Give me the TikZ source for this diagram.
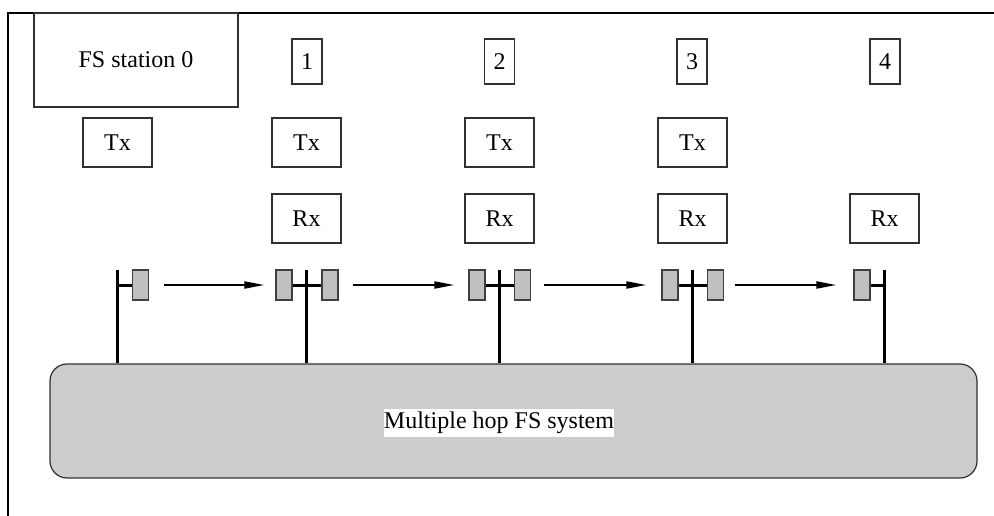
\documentclass[tikz,border=0pt]{standalone}
\usepackage{fontspec}
\setmainfont{Liberation Serif}
\usetikzlibrary{arrows.meta}
\definecolor{antfill}{HTML}{C0C0C0}
\definecolor{antedge}{HTML}{404040}
\definecolor{sysfill}{HTML}{CCCCCC}
\definecolor{edgecol}{HTML}{303030}
\begin{document}
\begin{tikzpicture}[x=1pt,y=-1pt,
  lbl/.style={font=\fontsize{24}{28}\selectfont},
  box/.style={lbl,draw=edgecol,line width=1.2pt,fill=white,minimum width=69pt,minimum height=49pt,inner sep=0pt},
  numbox/.style={box,minimum width=30pt,minimum height=45pt},
  ant/.style={draw=antedge,line width=1.2pt,fill=antfill,minimum width=16pt,minimum height=30pt,inner sep=0pt},
  pole/.style={line width=3pt},
  hop/.style={line width=2pt,-{Triangle[length=20pt,width=7pt]}},
]
\useasboundingbox (0,0) rectangle (994,516);
% frame
\draw[line width=1.5pt] (8,516) -- (8,13) -- (994,13);
% system box
\node[draw=edgecol,line width=1.2pt,fill=sysfill,rounded corners=17pt,minimum width=927pt,minimum height=114pt,inner sep=0pt] (sys) at (513.5,421) {};
\node[lbl,fill=white,inner xsep=0pt,inner ysep=3pt] (syslbl) at (499,423) {Multiple hop FS system};
% station 0
\node[box,minimum width=204pt,minimum height=94pt] (st0) at (136,60) {FS station 0};
% number boxes
\node[numbox] (n1) at (307,61.5) {1};
\node[numbox] (n2) at (499.5,61.5) {2};
\node[numbox] (n3) at (692,61.5) {3};
\node[numbox] (n4) at (885,61.5) {4};
% Tx / Rx
\node[box] (tx0) at (117.5,142.5) {Tx};
\node[box] (tx1) at (306.5,142.5) {Tx};
\node[box] (tx2) at (499.5,142.5) {Tx};
\node[box] (tx3) at (692.5,142.5) {Tx};
\node[box] (rx1) at (306.5,218.5) {Rx};
\node[box] (rx2) at (499.5,218.5) {Rx};
\node[box] (rx3) at (692.5,218.5) {Rx};
\node[box] (rx4) at (884.5,218.5) {Rx};
% pole tops
\coordinate (p0) at (117,270);
\coordinate (p1) at (306,270);
\coordinate (p2) at (499,270);
\coordinate (p3) at (692,270);
\coordinate (p4) at (884,270);
\coordinate (h0) at (117,285);
\coordinate (h4) at (884,285);
% antennas
\node[ant] (a0r) at (140.5,285) {};
\node[ant] (a1l) at (284,285) {};
\node[ant] (a1r) at (330,285) {};
\node[ant] (a2l) at (477,285) {};
\node[ant] (a2r) at (522.5,285) {};
\node[ant] (a3l) at (670,285) {};
\node[ant] (a3r) at (715.5,285) {};
\node[ant] (a4l) at (862,285) {};
% poles
\foreach \p in {p0,p1,p2,p3,p4}
  \draw[pole] (\p) -- (\p |- sys.north);
% stubs
\draw[pole] (h0) -- (a0r.west);
\draw[pole] (a1l.east) -- (a1r.west);
\draw[pole] (a2l.east) -- (a2r.west);
\draw[pole] (a3l.east) -- (a3r.west);
\draw[pole] (a4l.east) -- (h4);
% hops
\draw[hop] ([xshift=15pt]a0r.east) -- ([xshift=-11pt]a1l.west);
\draw[hop] ([xshift=14pt]a1r.east) -- ([xshift=-14pt]a2l.west);
\draw[hop] ([xshift=13pt]a2r.east) -- ([xshift=-15pt]a3l.west);
\draw[hop] ([xshift=11pt]a3r.east) -- ([xshift=-17pt]a4l.west);
\end{tikzpicture}
\end{document}
